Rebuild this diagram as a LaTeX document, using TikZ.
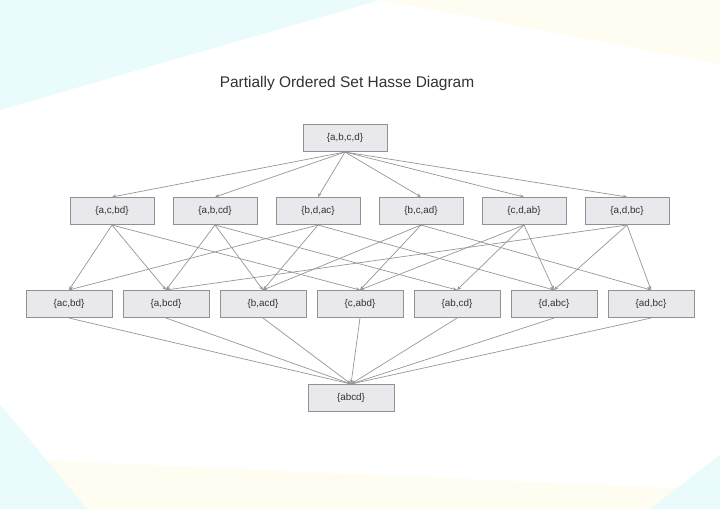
\documentclass[tikz,border=0pt]{standalone}
\usepackage{fontspec}
\setmainfont{Liberation Sans}
\usetikzlibrary{arrows.meta,positioning,backgrounds}
\definecolor{boxfill}{RGB}{233,233,237}
\definecolor{boxline}{RGB}{145,145,145}
\definecolor{edgecol}{RGB}{150,150,150}
\definecolor{txtcol}{RGB}{50,50,50}
\definecolor{bgcyan}{RGB}{234,251,252}
\definecolor{bgyellow}{RGB}{255,253,242}
\tikzset{
  pnode/.style={rectangle, draw=boxline, line width=0.6pt, fill=boxfill, minimum width=2.1cm, minimum height=0.68cm,
    inner sep=1pt, font=\fontsize{7}{8}\selectfont, text=txtcol},
  qnode/.style={pnode, minimum width=2.15cm},
  hedge/.style={draw=edgecol, line width=0.5pt, -{Stealth[length=3pt,width=2.5pt]}},
}

\begin{document}
\begin{tikzpicture}[x=0.025cm, y=-0.025cm]
  \useasboundingbox (0,0) rectangle (720,509);
  %% --- background decoration ---
  \fill[bgcyan] (0,0) -- (380,0) -- (0,110) -- cycle;
  \fill[bgyellow] (380,0) -- (720,0) -- (720,64) -- cycle;
  \fill[bgyellow] (40,460) -- (720,490) -- (720,509) -- (40,509) -- cycle;
  \fill[bgcyan] (0,404) -- (87,509) -- (0,509) -- cycle;
  \fill[bgcyan] (720,455) -- (720,509) -- (650,509) -- cycle;

  \node[font=\fontsize{11}{13}\selectfont, text=txtcol] (title) at (347,83) {Partially Ordered Set Hasse Diagram};

  %% --- levels ---
  \node[pnode] (top) at (345,138) {\{a,b,c,d\}};

  % pairs merged
  \foreach \lab [count=\i] in {{\{a,c,bd\}},{\{a,b,cd\}},{\{b,d,ac\}},{\{b,c,ad\}},{\{c,d,ab\}},{\{a,d,bc\}}}
    \node[pnode] (p\i) at ({112+103*(\i-1)},211) {\lab};

  % two blocks
  \foreach \lab [count=\i] in {{\{ac,bd\}},{\{a,bcd\}},{\{b,acd\}},{\{c,abd\}},{\{ab,cd\}},{\{d,abc\}},{\{ad,bc\}}}
    \node[qnode] (q\i) at ({69+97*(\i-1)},304) {\lab};

  \node[qnode] (bot) at (351,398) {\{abcd\}};

  %% --- covering edges ---
  \foreach \i in {1,...,6} \draw[hedge] (top.south) -- (p\i.north);

  \foreach \a/\b in {1/1,1/2,1/4, 2/2,2/3,2/5, 3/1,3/3,3/6, 4/3,4/4,4/7, 5/4,5/5,5/6, 6/2,6/6,6/7}
    \draw[hedge] (p\a.south) -- (q\b.north);

  \foreach \i in {1,...,7} \draw[hedge] (q\i.south) -- (bot.north);
\end{tikzpicture}
\end{document}
